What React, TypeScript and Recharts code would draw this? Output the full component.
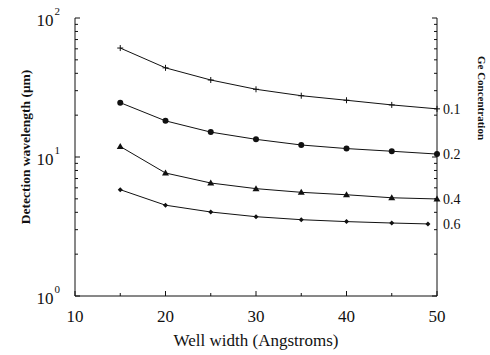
import React from "react";
import { LineChart, Line, XAxis, YAxis } from "recharts";

// well width (Angstroms)
const wells = [15, 20, 25, 30, 35, 40, 45, 50];
const wells06 = [15, 20, 25, 30, 35, 40, 45, 49];

// detection wavelength (um) for each Ge concentration
const ge01 = [60.8, 43.8, 35.8, 30.7, 27.6, 25.6, 23.7, 22.2];
const ge02 = [24.6, 18.2, 15.1, 13.4, 12.2, 11.5, 11.0, 10.5];
const ge04 = [11.9, 7.67, 6.5, 5.92, 5.57, 5.35, 5.09, 4.99];
const ge06 = [5.82, 4.5, 4.02, 3.72, 3.54, 3.43, 3.35, 3.3];

const concLabels = ["0.1", "0.2", "0.4", "0.6"];
const xTicks = [10, 15, 20, 25, 30, 35, 40, 45, 50];
const xLabels = [10, 20, 30, 40, 50];
const yLogTicks = [1, 2, 3, 4, 5, 6, 7, 8, 9, 10, 20, 30, 40, 50, 60, 70, 80, 90, 100];
const yMajor = [1, 10, 100];

const FONT = "'Liberation Serif', 'Times New Roman', serif";
const INK = "#111";

const toRows = (xs: number[], ys: number[]) => xs.map((w, i) => ({ w, v: ys[i] }));
const d01 = toRows(wells, ge01);
const d02 = toRows(wells, ge02);
const d04 = toRows(wells, ge04);
const d06 = toRows(wells06, ge06);
const ends = [ge01, ge02, ge04, ge06].map(s => s[s.length - 1]);

// markers
const plus = (p: any) => (
  <path key={`p${p.index}`} d={`M${p.cx - 3},${p.cy}h6M${p.cx},${p.cy - 3}v6`} stroke={INK} strokeWidth={1} />
);
const dot = (p: any) => <circle key={`c${p.index}`} cx={p.cx} cy={p.cy} r={3} fill={INK} />;
const tri = (p: any) => (
  <path key={`t${p.index}`} d={`M${p.cx},${p.cy - 3.5}L${p.cx + 3.5},${p.cy + 2.5}L${p.cx - 3.5},${p.cy + 2.5}Z`} fill={INK} />
);
const diamond = (p: any) => (
  <path key={`d${p.index}`} d={`M${p.cx},${p.cy - 2.5}L${p.cx + 2.5},${p.cy}L${p.cx},${p.cy + 2.5}L${p.cx - 2.5},${p.cy}Z`} fill={INK} />
);

const BottomTick = (p: any) => {
  const v = p.payload.value;
  const major = xLabels.includes(v);
  return (
    <g>
      <line x1={p.x} y1={p.y} x2={p.x} y2={p.y - (major ? 5 : 3)} stroke={INK} />
      {major && (
        <text x={p.x} y={p.y + 26} textAnchor="middle" fontSize={17} style={{ fontFamily: FONT }} fill={INK}>
          {v}
        </text>
      )}
    </g>
  );
};

const TopTick = (p: any) => {
  const major = xLabels.includes(p.payload.value);
  return <line x1={p.x} y1={p.y} x2={p.x} y2={p.y + (major ? 5 : 3)} stroke={INK} />;
};

const LeftTick = (p: any) => {
  const v = p.payload.value;
  const major = yMajor.includes(v);
  return (
    <g>
      <line x1={p.x} y1={p.y} x2={p.x + (major ? 5 : 3)} y2={p.y} stroke={INK} />
      {major && (
        <text x={p.x - 15} y={p.y + 8} textAnchor="end" fontSize={17} style={{ fontFamily: FONT }} fill={INK}>
          10
          <tspan fontSize={11} dx={1} dy={-11}>
            {Math.round(Math.log10(v))}
          </tspan>
        </text>
      )}
    </g>
  );
};

const RightTick = (p: any) => {
  const v = p.payload.value;
  const k = ends.indexOf(v);
  if (k >= 0) {
    return (
      <text x={p.x + 6} y={p.y + 5} fontSize={14} style={{ fontFamily: FONT }} fill={INK}>
        {concLabels[k]}
      </text>
    );
  }
  const major = yMajor.includes(v);
  return <line x1={p.x} y1={p.y} x2={p.x - (major ? 5 : 3)} y2={p.y} stroke={INK} />;
};

export default function App() {
  return (
    <div style={{ position: "absolute", left: 0, top: 0, width: 490, height: 355, background: "#fff", fontFamily: FONT }}>
      <LineChart width={490} height={355} margin={{ top: 18, right: 0, bottom: 0, left: 0 }}>
        <XAxis
          xAxisId="b"
          dataKey="w"
          type="number"
          domain={[10, 50]}
          ticks={xTicks}
          interval={0}
          height={59}
          tickSize={0}
          tickMargin={0}
          tickLine={false}
          axisLine={{ stroke: INK }}
          tick={BottomTick}
          allowDuplicatedCategory={false}
          label={{
            content: (lp: any) => (
              <text
                x={lp.viewBox.x + lp.viewBox.width / 2}
                y={lp.viewBox.y + 50}
                textAnchor="middle"
                fontSize={17}
                style={{ fontFamily: FONT }}
                fill={INK}
              >
                Well width (Angstroms)
              </text>
            ),
          }}
        />
        <XAxis
          xAxisId="t"
          dataKey="w"
          type="number"
          orientation="top"
          domain={[10, 50]}
          ticks={xTicks}
          interval={0}
          height={0}
          tickSize={0}
          tickMargin={0}
          tickLine={false}
          axisLine={{ stroke: INK }}
          tick={TopTick}
        />
        <YAxis
          yAxisId="l"
          scale="log"
          domain={[1, 100]}
          ticks={yLogTicks}
          interval={0}
          width={75}
          tickSize={0}
          tickMargin={0}
          tickLine={false}
          axisLine={{ stroke: INK }}
          tick={LeftTick}
          allowDataOverflow
          label={{
            content: (lp: any) => {
              const cx = 25;
              const cy = lp.viewBox.y + lp.viewBox.height / 2 - 10;
              return (
                <text
                  x={cx}
                  y={cy}
                  transform={`rotate(-90 ${cx} ${cy})`}
                  textAnchor="middle"
                  dominantBaseline="central"
                  fontSize={13.5}
                  fontWeight="bold"
                  style={{ fontFamily: FONT }}
                  fill={INK}
                >
                  Detection wavelength (μm)
                </text>
              );
            },
          }}
        />
        <YAxis
          yAxisId="r"
          orientation="right"
          scale="log"
          domain={[1, 100]}
          ticks={[...yLogTicks, ...ends]}
          interval={0}
          width={53}
          tickSize={0}
          tickMargin={0}
          tickLine={false}
          axisLine={{ stroke: INK }}
          tick={RightTick}
          allowDataOverflow
          label={{
            content: () => (
              <text
                x={482}
                y={98}
                transform="rotate(90 482 98)"
                textAnchor="middle"
                dominantBaseline="central"
                fontSize={11}
                fontWeight="bold"
                style={{ fontFamily: FONT }}
                fill={INK}
              >
                Ge Concentration
              </text>
            ),
          }}
        />
        <Line data={d01} dataKey="v" xAxisId="b" yAxisId="l" stroke={INK} strokeWidth={1} dot={plus} isAnimationActive={false} />
        <Line data={d02} dataKey="v" xAxisId="b" yAxisId="l" stroke={INK} strokeWidth={1} dot={dot} isAnimationActive={false} />
        <Line data={d04} dataKey="v" xAxisId="b" yAxisId="l" stroke={INK} strokeWidth={1} dot={tri} isAnimationActive={false} />
        <Line data={d06} dataKey="v" xAxisId="b" yAxisId="l" stroke={INK} strokeWidth={1} dot={diamond} isAnimationActive={false} />
      </LineChart>
    </div>
  );
}
